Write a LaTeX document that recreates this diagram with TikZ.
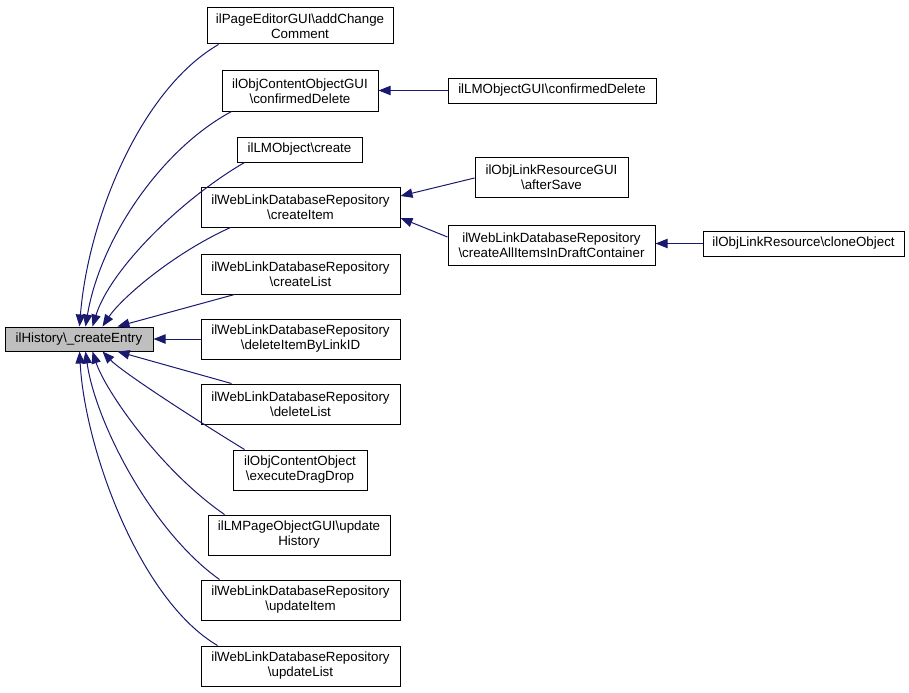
\documentclass[tikz,border=0pt]{standalone}
\usepackage{fontspec}
\setmainfont{Liberation Sans}
\usetikzlibrary{arrows.meta,calc}
\definecolor{edgeblue}{HTML}{191970}
\definecolor{histgray}{HTML}{BFBFBF}
\newcommand{\bs}{\textbackslash}
\begin{document}
\begin{tikzpicture}[x=0.75pt,y=-0.75pt,
  box/.style={draw=black,line width=0.75pt,fill=white,align=center,inner sep=1pt,
    font=\fontsize{10}{11.25}\selectfont},
  sz/.style 2 args={minimum width=#1*0.75pt,minimum height=#2*0.75pt},
  edge/.style={draw=edgeblue,line width=0.75pt,-{Triangle[length=9pt,width=7pt]}}]
\useasboundingbox (0,0) rectangle (909,692);
\node[box,sz={148}{24},fill=histgray] (hist) at (79,339) {ilHistory\bs\_createEntry};
\node[box,sz={186}{36}] (pce) at (300,26) {ilPageEditorGUI\bs addChange\\Comment};
\node[box,sz={156}{40}] (cdel) at (300,91) {ilObjContentObjectGUI\\\bs confirmedDelete};
\node[box,sz={208}{25}] (lmcd) at (552,90.5) {ilLMObjectGUI\bs confirmedDelete};
\node[box,sz={125}{25}] (lmc) at (299.5,149.5) {ilLMObject\bs create};
\node[box,sz={199}{40}] (ci) at (300.5,207) {ilWebLinkDatabaseRepository\\\bs createItem};
\node[box,sz={153}{40}] (as) at (551.5,177) {ilObjLinkResourceGUI\\\bs afterSave};
\node[box,sz={207}{40}] (cad) at (551.5,245) {ilWebLinkDatabaseRepository\\\bs createAllItemsInDraftContainer};
\node[box,sz={201}{25}] (clo) at (803.5,243.5) {ilObjLinkResource\bs cloneObject};
\node[box,sz={199}{40}] (cl) at (300.5,274) {ilWebLinkDatabaseRepository\\\bs createList};
\node[box,sz={199}{40}] (dil) at (300.5,339) {ilWebLinkDatabaseRepository\\\bs deleteItemByLinkID};
\node[box,sz={199}{40}] (dl) at (300.5,404) {ilWebLinkDatabaseRepository\\\bs deleteList};
\node[box,sz={134}{40}] (edd) at (300,470) {ilObjContentObject\\\bs executeDragDrop};
\node[box,sz={182}{40}] (uh) at (299,535) {ilLMPageObjectGUI\bs update\\History};
\node[box,sz={199}{40}] (ui) at (300.5,600) {ilWebLinkDatabaseRepository\\\bs updateItem};
\node[box,sz={199}{40}] (ul) at (300.5,666) {ilWebLinkDatabaseRepository\\\bs updateList};
% edges into ilHistory
\draw[edge] ($(pce.south west)+(12,0)$) .. controls (140,90) and (88,220) .. ($(hist.north west)+(75,0)$);
\draw[edge] ($(cdel.south west)+(10,0)$) .. controls (160,150) and (100,240) .. ($(hist.north west)+(81,0)$);
\draw[edge] ($(lmc.south west)+(8,0)$) .. controls (180,200) and (110,270) .. ($(hist.north west)+(88,0)$);
\draw[edge] ($(ci.south west)+(30,0)$) .. controls (170,255) and (120,300) .. ($(hist.north west)+(98,0)$);
\draw[edge] ($(cl.south west)+(34,0)$) -- ($(hist.north west)+(113,0)$);
\draw[edge] (dil.west) -- (hist.east);
\draw[edge] ($(dl.north west)+(31,0)$) -- ($(hist.south west)+(113,0)$);
\draw[edge] ($(edd.north west)+(12,0)$) .. controls (180,410) and (120,370) .. ($(hist.south west)+(98,0)$);
\draw[edge] ($(uh.north west)+(17,0)$) .. controls (160,470) and (105,390) .. ($(hist.south west)+(88,0)$);
\draw[edge] ($(ui.north west)+(19,0)$) .. controls (150,530) and (95,420) .. ($(hist.south west)+(81,0)$);
\draw[edge] ($(ul.north west)+(17,0)$) .. controls (140,600) and (85,450) .. ($(hist.south west)+(75,0)$);
% right side edges
\draw[edge] (lmcd.west) -- (lmcd.west -| cdel.east);
\draw[edge] ($(as.west)+(0,1)$) -- ($(ci.east)+(0,-11)$);
\draw[edge] ($(cad.west)+(0,-8)$) -- ($(ci.east)+(0,11)$);
\draw[edge] (clo.west) -- (clo.west -| cad.east);
\end{tikzpicture}
\end{document}
